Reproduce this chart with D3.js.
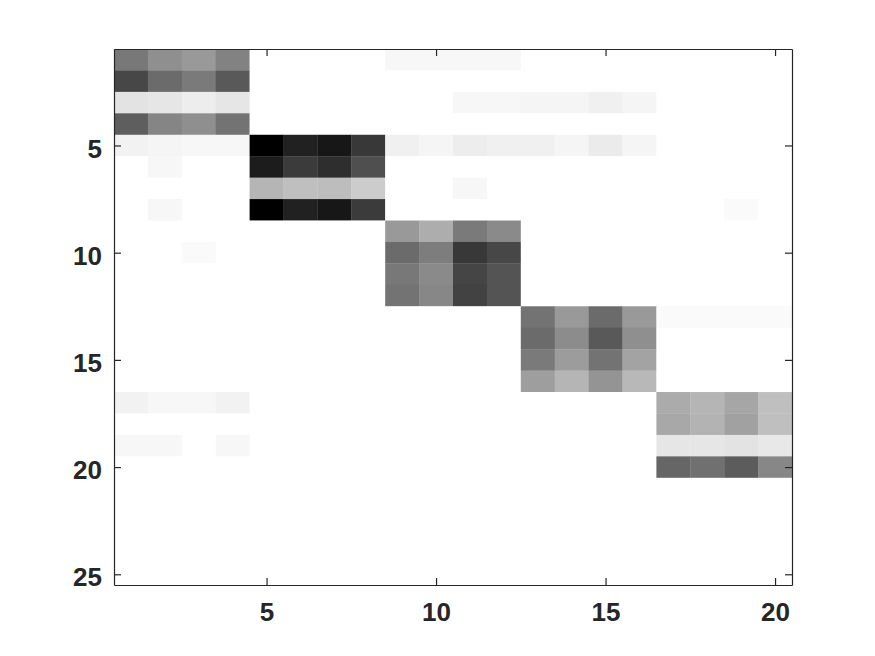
<!DOCTYPE html>
<html>
<head>
<meta charset="utf-8">
<script src="https://cdn.jsdelivr.net/npm/d3@7"></script>
<style>
  body { margin: 0; background: #fff; }
  svg text { font-family: "Liberation Sans", Arial, Helvetica, sans-serif; font-weight: bold; }
</style>
</head>
<body>
<div id="chart"></div>
<script>
/* Constant definitions */
const WIDTH = 875
const HEIGHT = 656
const LEFT = 114, RIGHT = 792, TOP = 49, BOTTOM = 585
const TICK_LEN = 7
const AXIS_COLOR = "#262626"

/* Data: rows 1..25, columns 1..20, value 0 = white .. 1 = black */
const rowIds = d3.range(1, 26)
const colIds = d3.range(1, 21)
const xTicks = [5, 10, 15, 20]
const yTicks = [5, 10, 15, 20, 25]
const cellValues = [
  [0.53,0.44,0.40,0.49, 0,0,0,0, 0.03,0.03,0.03,0.03, 0,0,0,0, 0,0,0,0],
  [0.72,0.58,0.52,0.65, 0,0,0,0, 0,0,0,0, 0,0,0,0, 0,0,0,0],
  [0.11,0.10,0.07,0.10, 0,0,0,0, 0,0,0.03,0.03, 0.04,0.04,0.06,0.04, 0,0,0,0],
  [0.63,0.48,0.44,0.55, 0,0,0,0, 0,0,0,0, 0,0,0,0, 0,0,0,0],
  [0.05,0.04,0.03,0.03, 1.00,0.87,0.91,0.78, 0.06,0.04,0.07,0.06, 0.06,0.04,0.08,0.04, 0,0,0,0],
  [0,0.03,0,0, 0.89,0.77,0.82,0.69, 0,0,0,0, 0,0,0,0, 0,0,0,0],
  [0,0,0,0, 0.29,0.25,0.26,0.20, 0,0,0.03,0, 0,0,0,0, 0,0,0,0],
  [0,0.03,0,0, 1.00,0.87,0.91,0.77, 0,0,0,0, 0,0,0,0, 0,0,0.02,0],
  [0,0,0,0, 0,0,0,0, 0.40,0.32,0.52,0.46, 0,0,0,0, 0,0,0,0],
  [0,0,0.02,0, 0,0,0,0, 0.58,0.51,0.78,0.72, 0,0,0,0, 0,0,0,0],
  [0,0,0,0, 0,0,0,0, 0.53,0.46,0.73,0.67, 0,0,0,0, 0,0,0,0],
  [0,0,0,0, 0,0,0,0, 0.55,0.47,0.74,0.67, 0,0,0,0, 0,0,0,0],
  [0,0,0,0, 0,0,0,0, 0,0,0,0, 0.55,0.40,0.58,0.40, 0.02,0.02,0.02,0.02],
  [0,0,0,0, 0,0,0,0, 0,0,0,0, 0.58,0.45,0.65,0.44, 0,0,0,0],
  [0,0,0,0, 0,0,0,0, 0,0,0,0, 0.52,0.39,0.55,0.36, 0,0,0,0],
  [0,0,0,0, 0,0,0,0, 0,0,0,0, 0.38,0.29,0.42,0.28, 0,0,0,0],
  [0.05,0.03,0.03,0.05, 0,0,0,0, 0,0,0,0, 0,0,0,0, 0.33,0.29,0.35,0.25],
  [0,0,0,0, 0,0,0,0, 0,0,0,0, 0,0,0,0, 0.34,0.30,0.37,0.25],
  [0.03,0.03,0,0.03, 0,0,0,0, 0,0,0,0, 0,0,0,0, 0.10,0.10,0.11,0.09],
  [0,0,0,0, 0,0,0,0, 0,0,0,0, 0,0,0,0, 0.60,0.56,0.64,0.47],
  [0,0,0,0, 0,0,0,0, 0,0,0,0, 0,0,0,0, 0,0,0,0],
  [0,0,0,0, 0,0,0,0, 0,0,0,0, 0,0,0,0, 0,0,0,0],
  [0,0,0,0, 0,0,0,0, 0,0,0,0, 0,0,0,0, 0,0,0,0],
  [0,0,0,0, 0,0,0,0, 0,0,0,0, 0,0,0,0, 0,0,0,0],
  [0,0,0,0, 0,0,0,0, 0,0,0,0, 0,0,0,0, 0,0,0,0]
]

/* Scales */
const xScale = d3.scaleLinear().domain([0.5, colIds.length + 0.5]).range([LEFT, RIGHT])
const yScale = d3.scaleLinear().domain([0.5, rowIds.length + 0.5]).range([TOP, BOTTOM])
const colorScale = d3.scaleLinear().domain([0, 1]).range(["#ffffff", "#000000"])

const cells = []
rowIds.forEach((r, i) => colIds.forEach((c, j) => cells.push({row: r, col: c, value: cellValues[i][j]})))

/* Define svg */
const canvas = d3.select("#chart")
                 .append("svg")
                 .attr("width", WIDTH)
                 .attr("height", HEIGHT)

canvas.append("g")
      .selectAll("rect")
      .data(cells)
      .enter()
      .append("rect")
      .attr("x", (d) => xScale(d.col - 0.5))
      .attr("y", (d) => yScale(d.row - 0.5))
      .attr("width", (d) => xScale(d.col + 0.5) - xScale(d.col - 0.5) + 0.3)
      .attr("height", (d) => yScale(d.row + 0.5) - yScale(d.row - 0.5) + 0.3)
      .attr("fill", (d) => colorScale(d.value))

/* Axes: ticks point inward, box on all four sides */
const styleAxis = (g) => {
  g.select(".domain").attr("stroke", AXIS_COLOR).attr("stroke-width", 1.2)
  g.selectAll(".tick line").attr("stroke", AXIS_COLOR).attr("stroke-width", 1.2)
  g.selectAll(".tick text").attr("fill", AXIS_COLOR).attr("font-size", "26px")
}

canvas.append("g")
      .attr("transform", "translate(0," + BOTTOM + ")")
      .call(d3.axisBottom(xScale).tickValues(xTicks).tickSizeInner(-TICK_LEN).tickSizeOuter(0).tickPadding(18))
      .call(styleAxis)
canvas.append("g")
      .attr("transform", "translate(0," + TOP + ")")
      .call(d3.axisTop(xScale).tickValues(xTicks).tickSizeInner(-TICK_LEN).tickSizeOuter(0).tickFormat(""))
      .call(styleAxis)
canvas.append("g")
      .attr("transform", "translate(" + LEFT + ",0)")
      .call(d3.axisLeft(yScale).tickValues(yTicks).tickSizeInner(-TICK_LEN).tickSizeOuter(0).tickPadding(12))
      .call(styleAxis)
      .call((g) => g.selectAll(".tick text").attr("dy", "0.45em"))
canvas.append("g")
      .attr("transform", "translate(" + RIGHT + ",0)")
      .call(d3.axisRight(yScale).tickValues(yTicks).tickSizeInner(-TICK_LEN).tickSizeOuter(0).tickFormat(""))
      .call(styleAxis)
</script>
</body>
</html>
